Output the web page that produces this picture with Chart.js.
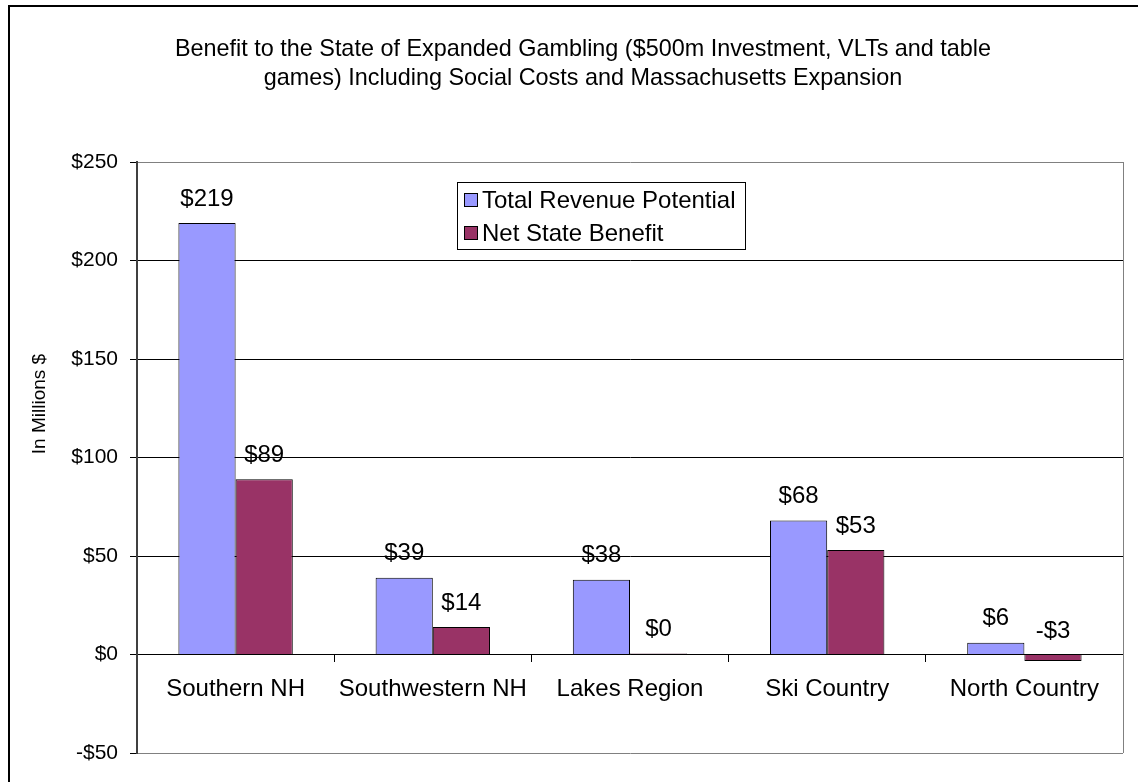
<!DOCTYPE html>
<html>
<head>
<meta charset="utf-8">
<script src="https://cdn.jsdelivr.net/npm/chart.js@4.4.1/dist/chart.umd.min.js"></script>
<style>
  html, body { margin: 0; padding: 0; background: #fff; }
  #wrap { position: relative; width: 1138px; height: 782px; overflow: hidden; }
  #frame { position: absolute; left: 8px; top: 5px; width: 1140px; height: 790px; border: 2px solid #000; box-sizing: border-box; pointer-events: none; }
  canvas { display: block; }
</style>
</head>
<body>
<div id="wrap">
  <canvas id="c" width="1138" height="782"></canvas>
  <div id="frame"></div>
</div>
<script>
// ---- data ----
const categories = ['Southern NH', 'Southwestern NH', 'Lakes Region', 'Ski Country', 'North Country'];
const totalRevenue = [219, 39, 38, 68, 6];
const netBenefit = [89, 14, 0.45, 53, -3.3];
const seriesNames = ['Total Revenue Potential', 'Net State Benefit'];
const titleLines = ['Benefit to the State of Expanded Gambling ($500m Investment, VLTs and table',
                    'games) Including Social Costs and Massachusetts Expansion'];
const yAxisTitle = 'In Millions $';
const yMin = -50, yMax = 250, yStep = 50;

const FONT = 'Liberation Sans, Arial, sans-serif';
const fmt = v => (Math.round(v) < 0 ? '-$' : '$') + Math.abs(Math.round(v));

const decorPlugin = {
  id: 'decor',
  beforeDatasetsDraw(chart) {
    const { ctx, chartArea: a } = chart;
    ctx.save();
    ctx.strokeStyle = '#808080';
    ctx.lineWidth = 1;
    ctx.beginPath();
    ctx.moveTo(Math.round(a.right) + 0.5, a.top);
    ctx.lineTo(Math.round(a.right) + 0.5, a.bottom);
    ctx.stroke();
    ctx.restore();
  },
  afterDatasetsDraw(chart) {
    const { ctx } = chart;
    ctx.save();
    // data labels
    ctx.font = '24px ' + FONT;
    ctx.fillStyle = '#000';
    ctx.textAlign = 'center';
    ctx.textBaseline = 'middle';
    chart.data.datasets.forEach((ds, i) => {
      const meta = chart.getDatasetMeta(i);
      meta.data.forEach((el, j) => {
        const top = Math.min(el.y, el.base);
        ctx.fillText(fmt(ds.data[j]), el.x, top - 24);
      });
    });
    // legend
    const lx = 457, ly = 182, lw = 288, lh = 67;
    ctx.fillStyle = '#fff';
    ctx.fillRect(lx, ly, lw, lh);
    ctx.strokeStyle = '#000';
    ctx.lineWidth = 1;
    ctx.strokeRect(lx + 0.5, ly + 0.5, lw, lh);
    ctx.textAlign = 'left';
    chart.data.datasets.forEach((ds, i) => {
      const cy = 200 + i * 33;
      ctx.fillStyle = ds.backgroundColor;
      ctx.fillRect(464, cy - 7, 14, 14);
      ctx.strokeRect(464.5, cy - 6.5, 13, 13);
      ctx.fillStyle = '#000';
      ctx.fillText(ds.label, 482, cy + 1);
    });
    // title
    ctx.textAlign = 'center';
    ctx.font = '23.4px ' + FONT;
    titleLines.forEach((t, i) => ctx.fillText(t, 583, 50 + i * 29));
    // y axis title
    ctx.translate(40, 404);
    ctx.rotate(-Math.PI / 2);
    ctx.font = '19px ' + FONT;
    ctx.fillText(yAxisTitle, 0, 0);
    ctx.restore();
  }
};

new Chart(document.getElementById('c'), {
  type: 'bar',
  data: {
    labels: categories,
    datasets: [
      { label: seriesNames[0], data: totalRevenue, backgroundColor: '#9999FF', borderColor: '#000', borderWidth: 1 },
      { label: seriesNames[1], data: netBenefit, backgroundColor: '#993366', borderColor: '#000', borderWidth: 1 }
    ]
  },
  options: {
    responsive: false,
    animation: false,
    layout: { padding: { top: 162, right: 15, bottom: 29, left: 0 } },
    datasets: { bar: { categoryPercentage: 0.58, barPercentage: 1.0 } },
    plugins: { legend: { display: false }, title: { display: false }, tooltip: { enabled: false } },
    scales: {
      x: {
        position: { y: 0 },
        afterFit: s => { s.height = 0; },
        grid: { offset: true, drawOnChartArea: false, drawTicks: true, tickLength: 7, color: '#000', tickColor: '#000' },
        border: { display: true, color: '#000', width: 1 },
        ticks: { color: '#000', font: { family: FONT, size: 24 }, padding: 13, maxRotation: 0, autoSkip: false }
      },
      y: {
        min: yMin, max: yMax,
        afterFit: s => { s.width = 137; },
        grid: {
          color: c => (c.tick && (c.tick.value === yMax || c.tick.value === yMin)) ? '#808080' : '#000',
          tickColor: '#000', tickLength: 7, lineWidth: 1
        },
        border: { display: true, color: '#404040', width: 2 },
        ticks: { stepSize: yStep, color: '#000', font: { family: FONT, size: 21 }, padding: 12, callback: v => fmt(v) }
      }
    }
  },
  plugins: [decorPlugin]
});
</script>
</body>
</html>
